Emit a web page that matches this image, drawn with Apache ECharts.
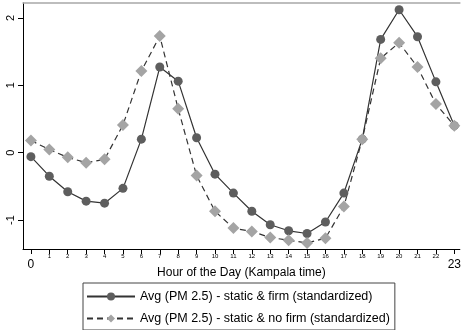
<!DOCTYPE html>
<html>
<head>
<meta charset="utf-8">
<script src="https://cdn.jsdelivr.net/npm/echarts@6/dist/echarts.min.js"></script>
<style>
  html, body { margin: 0; padding: 0; background: #fff; }
  #chart { width: 464px; height: 330px; }
</style>
</head>
<body>
<div id="chart"></div>
<script>
// hours of the day
const hours = [0, 1, 2, 3, 4, 5, 6, 7, 8, 9, 10, 11, 12, 13, 14, 15, 16, 17, 18, 19, 20, 21, 22, 23]
const firm = [-0.06, -0.35, -0.58, -0.72, -0.75, -0.53, 0.20, 1.27, 1.06, 0.22, -0.32, -0.60,
  -0.87, -1.07, -1.16, -1.20, -1.03, -0.60, 0.20, 1.68, 2.12, 1.72, 1.05, 0.40]
const noFirm = [0.18, 0.045, -0.07, -0.15, -0.10, 0.41, 1.21, 1.73, 0.65, -0.34, -0.87, -1.12,
  -1.17, -1.26, -1.30, -1.34, -1.27, -0.80, 0.20, 1.40, 1.63, 1.27, 0.72, 0.40]
const yTicks = [-1, 0, 1, 2]
const names = ['Avg (PM 2.5) - static & firm (standardized)', 'Avg (PM 2.5) - static & no firm (standardized)']

const chart = echarts.init(document.getElementById('chart'))

const option = {
  animation: false,
  textStyle: {fontFamily: 'Liberation Sans, Arial, sans-serif'},
  grid: {left: 23, right: 0, top: 3, bottom: 81},
  xAxis: [{
    type: 'value',
    min: -0.43,
    max: 23.3,
    axisLine: {onZero: false, lineStyle: {color: '#000', width: 1}},
    axisTick: {show: true, length: 5, customValues: hours, lineStyle: {color: '#000'}},
    splitLine: {show: false},
    axisLabel: {
      customValues: hours,
      margin: 4,
      color: '#000',
      fontSize: 6,
      formatter: function (v) {
        if (v === 0 || v === 23) return '{big|' + v + '}'
        return v
      },
      rich: {big: {fontSize: 12, padding: [6, 0, 0, 0], color: '#000'}}
    },
    name: 'Hour of the Day (Kampala time)',
    nameLocation: 'middle',
    nameGap: 18,
    nameMoveOverlap: false,
    nameTextStyle: {fontSize: 12, color: '#000'}
  }, {
    type: 'value',
    position: 'top',
    min: -0.43,
    max: 23.3,
    axisLine: {onZero: false, lineStyle: {color: '#a8a8a8', width: 1.5}},
    axisTick: {show: false},
    axisLabel: {show: false},
    splitLine: {show: false}
  }],
  yAxis: {
    type: 'value',
    min: -1.43,
    max: 2.22,
    axisLine: {show: true, onZero: false, lineStyle: {color: '#000', width: 1}},
    axisTick: {show: true, length: 5, customValues: yTicks, lineStyle: {color: '#000'}},
    splitLine: {show: false},
    axisLabel: {customValues: yTicks, rotate: 90, margin: 7, fontSize: 11, color: '#000'}
  },
  legend: {
    left: 83,
    top: 283,
    orient: 'vertical',
    itemWidth: 48,
    itemHeight: 10,
    itemGap: 9,
    padding: [7, 5, 5, 3],
    borderColor: '#444',
    borderWidth: 1,
    textStyle: {fontSize: 12.5, lineHeight: 12, color: '#000'},
    data: names
  },
  series: [{
    name: names[0],
    type: 'line',
    data: hours.map((h, i) => [h, firm[i]]),
    symbol: 'circle',
    symbolSize: 9,
    itemStyle: {color: '#5e5e5e'},
    lineStyle: {color: '#333', width: 1.2}
  }, {
    name: names[1],
    type: 'line',
    data: hours.map((h, i) => [h, noFirm[i]]),
    symbol: 'diamond',
    symbolSize: 12,
    itemStyle: {color: '#a4a4a4'},
    lineStyle: {color: '#333', width: 1.2, type: [6, 4]}
  }]
}

chart.setOption(option)
</script>
</body>
</html>
